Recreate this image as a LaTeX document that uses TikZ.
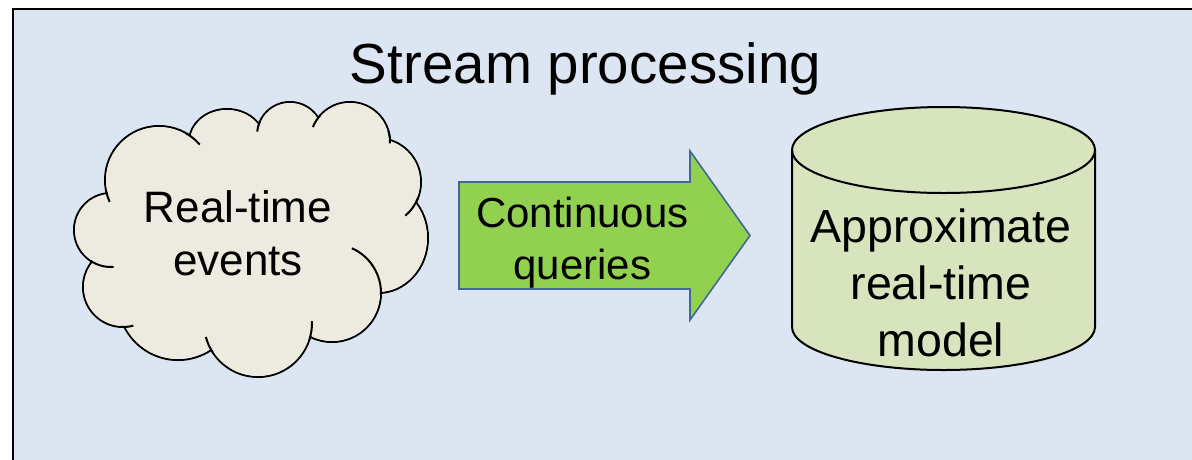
\documentclass[tikz,border=0pt]{standalone}
\usepackage{fontspec}
\setmainfont{Liberation Sans}
\definecolor{panelblue}{RGB}{220,230,242}
\definecolor{cloudfill}{RGB}{237,235,224}
\definecolor{arrowgreen}{RGB}{146,208,80}
\definecolor{arrowedge}{RGB}{65,105,150}
\definecolor{cylfill}{RGB}{215,228,189}
\tikzset{
  panel/.style={fill=panelblue, draw=black, line width=2.5pt},
  cloudline/.style={draw=black, line width=2pt},
  cloudbody/.style={fill=cloudfill},
  flowarrow/.style={fill=arrowgreen, draw=arrowedge, line width=1.6pt, line join=miter},
  store/.style={fill=cylfill, draw=black, line width=2pt},
  label/.style={inner sep=0pt, align=center, text=black}
}
\begin{document}
\begin{tikzpicture}[x=1pt, y=-1pt]
\useasboundingbox (0,0) rectangle (1192,459);
\clip (0,0) rectangle (1192,459);
\fill[white] (0,0) rectangle (1192,459);

% background panel (runs past the right and bottom edges)
\draw[panel] (13,9) rectangle (1230,500);

\node[label, anchor=base, font=\fontsize{56.5}{68}\selectfont] (title) at (585.5,83) {Stream processing};

% ---- cloud: outline of the union of the bumps ----
% bump outlines
\foreach \cx/\cy/\r in {159/180/54, 290/135/33, 350/142/40, 377/182/44,
                        332/293/49, 258/323/54, 178/300/60, 123/287/40, 111/230/37}
  \draw[cloudline] (\cx,\cy) circle[radius=\r];
\draw[cloudline] (227,142) ellipse[x radius=38, y radius=33];
\draw[cloudline] (378,238) ellipse[x radius=50, y radius=55];
% interior fill hides the inner parts of the outlines
\foreach \cx/\cy/\r in {159/180/54, 290/135/33, 350/142/40, 377/182/44,
                        332/293/49, 258/323/54, 178/300/60, 123/287/40, 111/230/37}
  \fill[cloudbody] (\cx,\cy) circle[radius=\r-1];
\fill[cloudbody] (227,142) ellipse[x radius=37, y radius=32];
\fill[cloudbody] (378,238) ellipse[x radius=49, y radius=54];
\fill[cloudbody] (159,180) -- (227,142) -- (290,135) -- (350,142) -- (377,182)
  -- (378,238) -- (332,293) -- (258,323) -- (178,300) -- (123,287) -- (111,230) -- cycle;
% short inner strokes where the bumps overlap
\draw[cloudline] (159,180) ++(156:54) arc[start angle=156, end angle=168, radius=54];
\draw[cloudline] (159,180) ++(-60:54) arc[start angle=-60, end angle=-41, radius=54];
\draw[cloudline] (290,135) ++(186:33) arc[start angle=186, end angle=205, radius=33];
\draw[cloudline] (350,142) ++(202:40) arc[start angle=202, end angle=222, radius=40];
\draw[cloudline] (350,142) ++(-16:40) arc[start angle=-16, end angle=2, radius=40];
\draw[cloudline] (377,182) ++(20:44) arc[start angle=20, end angle=50, radius=44];
\draw[cloudline] (332,293) ++(-66:49) arc[start angle=-66, end angle=2, radius=49];
\draw[cloudline] (258,323) ++(-2:54) arc[start angle=-2, end angle=18, radius=54];
\draw[cloudline] (258,323) ++(146:54) arc[start angle=146, end angle=165, radius=54];
\draw[cloudline] (123,287) ++(75:40) arc[start angle=75, end angle=94, radius=40];
\draw[cloudline] (111,230) ++(86:37) arc[start angle=86, end angle=124, radius=37];

\node[label, font=\fontsize{44}{53}\selectfont] (events) at (238,233.5) {Real-time\\events};

% ---- block arrow ----
\draw[flowarrow] (459,182) -- (690,182) -- (690,151) -- (750,235.5)
  -- (690,320) -- (690,289) -- (459,289) -- cycle;
\node[label, font=\fontsize{42}{52}\selectfont] (queries) at (582.5,243) {Continuous\\queries};

% ---- cylinder store ----
\draw[store] (792,150) -- (792,327)
  arc[start angle=180, end angle=0, x radius=151.5, y radius=43]
  -- (1095,150)
  arc[start angle=0, end angle=-180, x radius=151.5, y radius=43] -- cycle;
\draw[store, fill=none] (792,150)
  arc[start angle=180, end angle=0, x radius=151.5, y radius=43];
\node[label, font=\fontsize{46.5}{57}\selectfont] (model) at (941,283) {Approximate\\real-time\\model};
\end{tikzpicture}
\end{document}
